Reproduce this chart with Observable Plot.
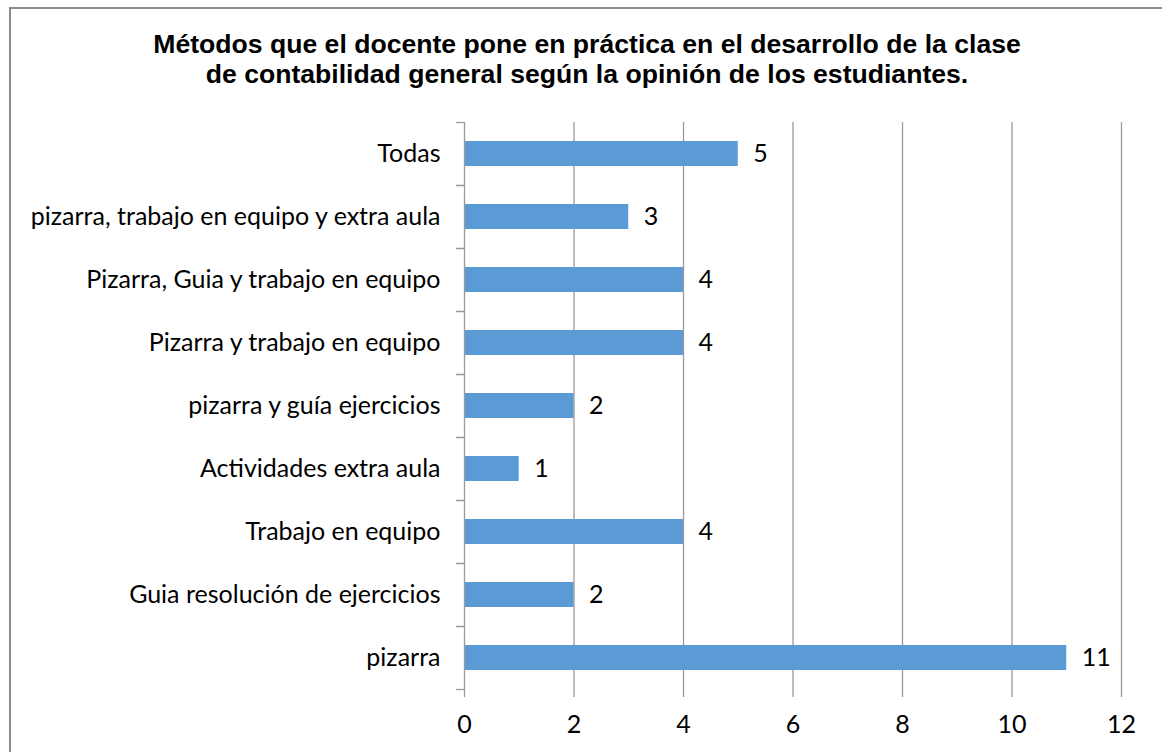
<!DOCTYPE html>
<html>
<head>
<meta charset="utf-8">
<script src="https://cdn.jsdelivr.net/npm/d3@7"></script>
<script src="https://cdn.jsdelivr.net/npm/@observablehq/plot@0.6"></script>
<style>
  html, body { margin: 0; padding: 0; background: #fff; overflow: hidden; }
  #wrap { position: relative; width: 1162px; height: 752px; }
  #border { position: absolute; left: 9px; top: 7px; width: 1300px; height: 900px; border: 2px solid #8c8c8c; box-sizing: border-box; }
  #title { position: absolute; left: 0; top: 29px; width: 1174px; text-align: center;
           font-family: "Liberation Sans", Arial, sans-serif; font-weight: bold; font-size: 26.6px; line-height: 30px; color: #000; }
  #chart { position: absolute; left: 0; top: 100px; }
</style>
</head>
<body>
<div id="wrap">
  <div id="border"></div>
  <div id="title">Métodos que el docente pone en práctica en el desarrollo de la clase<br>de contabilidad general según la opinión de los estudiantes.</div>
  <div id="chart"></div>
</div>
<script>
const categories = [
  "Todas",
  "pizarra, trabajo en equipo y extra aula",
  "Pizarra, Guia y trabajo en equipo",
  "Pizarra y trabajo en equipo",
  "pizarra y guía ejercicios",
  "Actividades extra aula",
  "Trabajo en equipo",
  "Guia resolución de ejercicios",
  "pizarra"
];
const values = [5, 3, 4, 4, 2, 1, 4, 2, 11];
const xTicks = [0, 2, 4, 6, 8, 10, 12];

const data = categories.map((c, i) => ({category: c, value: values[i]}));

const W = 1162, H = 652;
const mT = 22, mB = 63, mL = 464, mR = 41;
const step = (H - mT - mB) / categories.length;
const font = "Lato, 'Open Sans', sans-serif";
const fs = 25;
const gridColor = "#9a9a9a";

const chart = Plot.plot({
  width: W,
  height: H,
  marginTop: mT,
  marginBottom: mB,
  marginLeft: mL,
  marginRight: mR,
  style: {fontFamily: font, fontSize: fs + "px", color: "#000", background: "transparent"},
  x: {domain: [0, 12], ticks: xTicks},
  y: {domain: categories, paddingInner: 0.6, paddingOuter: 0.3},
  marks: [
    Plot.gridX(xTicks.filter(d => d > 0), {stroke: gridColor, strokeOpacity: 1, strokeWidth: 1.3}),
    Plot.barX(data, {x: "value", y: "category", fill: "#5B9BD5"}),
    Plot.text(data, {x: "value", y: "category", text: d => String(d.value), textAnchor: "start", dx: 15, fontSize: fs, fill: "#000"}),
    Plot.ruleX([0], {stroke: gridColor, strokeWidth: 1.3}),
    Plot.axisX({ticks: xTicks, tickSize: 8, tickPadding: 18, stroke: gridColor, fill: "#000", fontSize: fs, label: null, strokeWidth: 1.3}),
    Plot.axisY({tickSize: 0, tickPadding: 24, fill: "#000", fontSize: fs, label: null}),
    Plot.axisY({tickSize: 8, tickFormat: () => "", dy: -step / 2, stroke: gridColor, label: null, strokeWidth: 1.3}),
    Plot.axisY({tickSize: 8, tickFormat: () => "", dy: step / 2, stroke: gridColor, label: null, strokeWidth: 1.3})
  ]
});
document.getElementById("chart").appendChild(chart);
</script>
</body>
</html>
